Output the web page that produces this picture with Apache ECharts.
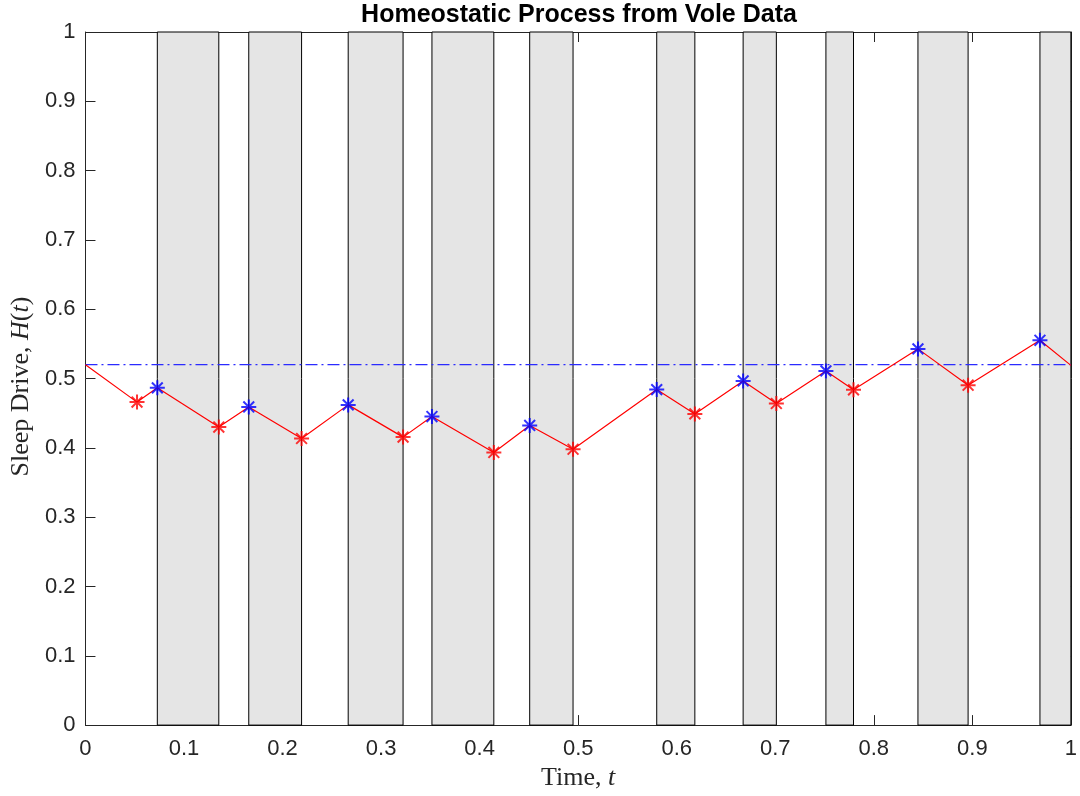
<!DOCTYPE html>
<html>
<head>
<meta charset="utf-8">
<title>Homeostatic Process from Vole Data</title>
<script src="https://cdn.jsdelivr.net/npm/echarts@6/dist/echarts.min.js"></script>
<style>
  html, body { margin: 0; padding: 0; background: #ffffff; }
  #chart { width: 1080px; height: 796px; }
</style>
</head>
<body>
<div id="chart"></div>
<script>
// Sleep bouts (shaded): start and end times
const sleepStart = [0.0729, 0.1657, 0.2666, 0.3516, 0.4508, 0.5797, 0.6674, 0.7514, 0.8448, 0.9686];
const sleepEnd   = [0.1353, 0.2193, 0.3223, 0.4144, 0.4948, 0.6184, 0.7011, 0.7794, 0.8957, 1.0];

// Sleep drive at sleep onset (blue markers)
const onsetTime  = [0.0729, 0.1657, 0.2666, 0.3516, 0.4508, 0.5797, 0.6674, 0.7514, 0.8448, 0.9686];
const onsetDrive = [0.4866, 0.4590, 0.4620, 0.4452, 0.4323, 0.4841, 0.4966, 0.5110, 0.5428, 0.5552];

// Sleep drive at waking (red markers)
const wakeTime  = [0.0523, 0.1353, 0.2193, 0.3223, 0.4144, 0.4948, 0.6184, 0.7011, 0.7794, 0.8957];
const wakeDrive = [0.4660, 0.4300, 0.4135, 0.4155, 0.3934, 0.3980, 0.4490, 0.4640, 0.4837, 0.4904];

// Trajectory end points and upper threshold
const startPoint = [0, 0.52];
const endPoint   = [1, 0.519];
const upperThreshold = 0.52;

// Axis ticks
const xTicks = ['0', '0.1', '0.2', '0.3', '0.4', '0.5', '0.6', '0.7', '0.8', '0.9', '1'];
const yTicks = ['0', '0.1', '0.2', '0.3', '0.4', '0.5', '0.6', '0.7', '0.8', '0.9', '1'];

// Build the H(t) trajectory: wake -> onset -> wake ...
const trajectory = [startPoint];
for (let i = 0; i < wakeTime.length; i++) {
  trajectory.push([wakeTime[i], wakeDrive[i]]);
  trajectory.push([onsetTime[i], onsetDrive[i]]);
}
trajectory.push(endPoint);

const sleepAreas = sleepStart.map((s, i) => [{ xAxis: s, yAxis: 0 }, { xAxis: sleepEnd[i], yAxis: 1 }]);

// Asterisk marker, stroked
const asterisk = 'path://M0,-1L0,1M-1,0L1,0M-0.72,-0.72L0.72,0.72M-0.72,0.72L0.72,-0.72';

const axisColor = '#262626';
const tickFont = 'Liberation Sans, Arial, Helvetica, sans-serif';
const serif = 'Liberation Serif, Times New Roman, serif';

const tickIdx = v => Math.round(v * 10);

const chart = echarts.init(document.getElementById('chart'), null, { renderer: 'canvas' });
chart.setOption({
  backgroundColor: '#ffffff',
  animation: false,
  title: {
    text: 'Homeostatic Process from Vole Data',
    left: 579,
    top: 3,
    padding: 0,
    textAlign: 'center',
    textStyle: { fontFamily: tickFont, fontWeight: 'bold', fontSize: 25, color: '#000000' }
  },
  grid: { left: 85, right: 7, top: 32, bottom: 70, containLabel: false },
  xAxis: [
    {
      type: 'value', min: 0, max: 1, interval: 0.1, position: 'bottom',
      name: '{r|Time, }{i|t}',
      nameLocation: 'middle', nameGap: 35,
      nameTextStyle: {
        rich: {
          r: { fontFamily: serif, fontSize: 26, color: axisColor },
          i: { fontFamily: serif, fontStyle: 'italic', fontSize: 26, color: axisColor }
        }
      },
      axisLine: { show: true, onZero: false, lineStyle: { color: axisColor, width: 1 } },
      axisTick: { show: true, inside: true, length: 10, lineStyle: { color: axisColor } },
      axisLabel: {
        margin: 13, fontFamily: tickFont, fontSize: 22, color: axisColor,
        formatter: v => xTicks[tickIdx(v)]
      },
      splitLine: { show: false }
    },
    {
      type: 'value', min: 0, max: 1, interval: 0.1, position: 'top',
      axisLine: { show: true, onZero: false, lineStyle: { color: axisColor, width: 1 } },
      axisTick: { show: true, inside: true, length: 10, lineStyle: { color: axisColor } },
      axisLabel: { show: false },
      splitLine: { show: false }
    }
  ],
  yAxis: [
    {
      type: 'value', min: 0, max: 1, interval: 0.1, position: 'left',
      name: '{r|Sleep Drive, }{i|H}{r|(}{i|t}{r|)}',
      nameLocation: 'middle', nameGap: 50, nameRotate: 90,
      nameTextStyle: {
        padding: [0, 16, 0, 0],
        rich: {
          r: { fontFamily: serif, fontSize: 26, color: axisColor },
          i: { fontFamily: serif, fontStyle: 'italic', fontSize: 26, color: axisColor }
        }
      },
      axisLine: { show: true, onZero: false, lineStyle: { color: axisColor, width: 1 } },
      axisTick: { show: true, inside: true, length: 10, lineStyle: { color: axisColor } },
      axisLabel: {
        margin: 10, fontFamily: tickFont, fontSize: 22, color: axisColor,
        formatter: v => yTicks[tickIdx(v)]
      },
      splitLine: { show: false }
    },
    {
      type: 'value', min: 0, max: 1, interval: 0.1, position: 'right',
      axisLine: { show: true, onZero: false, lineStyle: { color: axisColor, width: 1 } },
      axisTick: { show: true, inside: true, length: 10, lineStyle: { color: axisColor } },
      axisLabel: { show: false },
      splitLine: { show: false }
    }
  ],
  series: [
    {
      // shaded sleep bouts
      name: 'Sleep',
      type: 'line',
      data: [],
      silent: true,
      markArea: {
        silent: true,
        itemStyle: { color: '#e5e5e5', borderColor: '#000000', borderWidth: 1 },
        data: sleepAreas
      }
    },
    {
      // upper threshold
      name: 'Threshold',
      type: 'line',
      data: [[0, upperThreshold], [1, upperThreshold]],
      showSymbol: false,
      silent: true,
      z: 3,
      lineStyle: { color: '#2b2bff', width: 1.2, type: [12, 4, 2, 4] }
    },
    {
      name: 'H(t)',
      type: 'line',
      data: trajectory,
      showSymbol: false,
      silent: true,
      z: 4,
      lineStyle: { color: '#ff0000', width: 1.2 }
    },
    {
      name: 'Waking',
      type: 'scatter',
      data: wakeTime.map((t, i) => [t, wakeDrive[i]]),
      symbol: asterisk,
      symbolSize: 15,
      silent: true,
      z: 5,
      itemStyle: { color: 'none', borderColor: '#ff0000', borderWidth: 2 }
    },
    {
      name: 'Sleep onset',
      type: 'scatter',
      data: onsetTime.map((t, i) => [t, onsetDrive[i]]),
      symbol: asterisk,
      symbolSize: 15,
      silent: true,
      z: 5,
      itemStyle: { color: 'none', borderColor: '#0000ff', borderWidth: 2 }
    }
  ]
});
</script>
</body>
</html>
